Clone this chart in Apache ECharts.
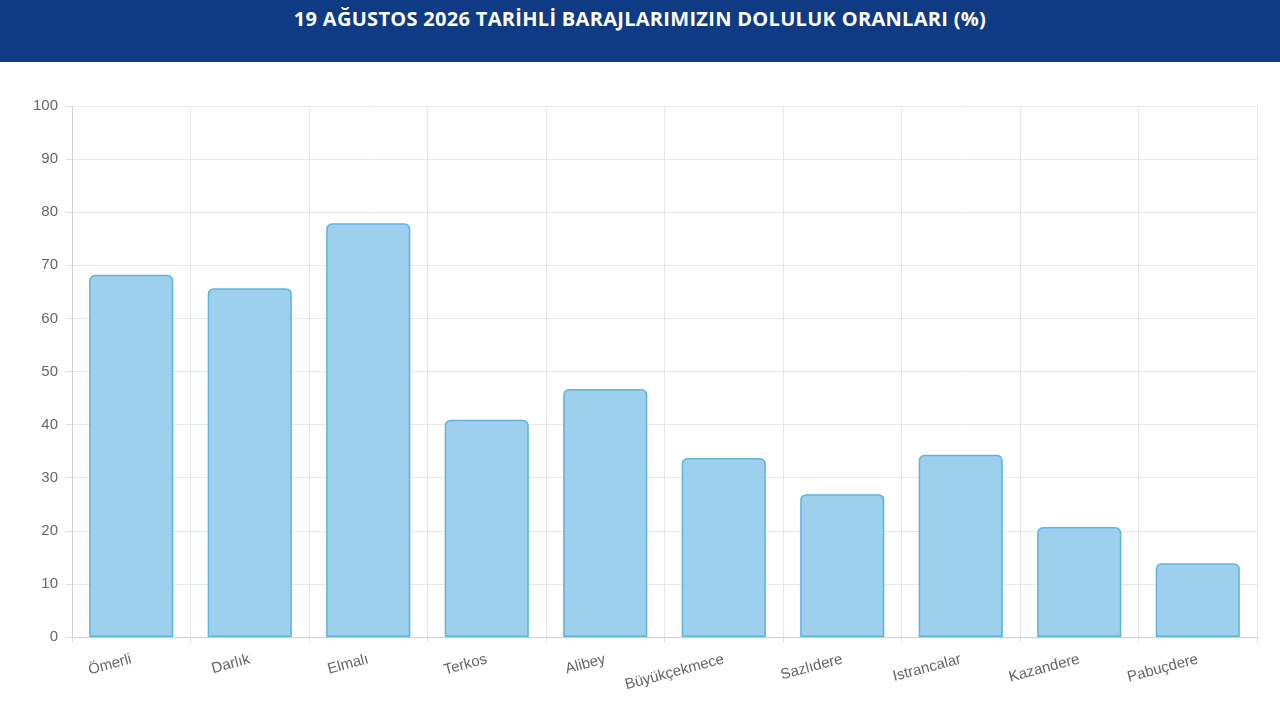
<!DOCTYPE html>
<html><head><meta charset="utf-8">
<script src="https://cdn.jsdelivr.net/npm/echarts@6/dist/echarts.min.js"></script>
<style>html,body{margin:0;padding:0;background:#fff}
#hdr{position:absolute;left:0;top:0;width:1280px;height:62px;background:#0f3a84;color:#fff;font:bold 20px "Open Sans",sans-serif;text-align:center;line-height:38px;letter-spacing:0.3px}
#c{position:absolute;left:0;top:0;width:1280px;height:720px}</style></head>
<body><div id="c"></div><div id="hdr">19 AĞUSTOS 2026 TARİHLİ BARAJLARIMIZIN DOLULUK ORANLARI (%)</div>
<script>
const categories=["Ömerli","Darlık","Elmalı","Terkos","Alibey","Büyükçekmece","Sazlıdere","Istrancalar","Kazandere","Pabuçdere"];
const values=[68.2,65.7,77.9,40.9,46.7,33.7,26.9,34.3,20.7,13.9];
const chart=echarts.init(document.getElementById('c'));
chart.setOption({
 animation:false,
 grid:{left:72,right:23,top:106,bottom:83},
 xAxis:{type:'category',data:categories,boundaryGap:true,
  axisLine:{lineStyle:{color:'#d0d0d0'}},axisTick:{show:true,length:6,lineStyle:{color:'#e0e0e0'}},
  splitLine:{show:true,lineStyle:{color:'#e8e8e8'}},
  axisLabel:{rotate:15,color:'#666',fontSize:15,fontFamily:'Liberation Sans',margin:22}},
 yAxis:{type:'value',min:0,max:100,interval:10,
  axisLine:{show:true,lineStyle:{color:'#d0d0d0'}},axisTick:{show:true,length:6,lineStyle:{color:'#e0e0e0'}},
  splitLine:{lineStyle:{color:'#e8e8e8'}},
  axisLabel:{color:'#666',fontSize:15,fontFamily:'Liberation Sans',margin:14}},
 series:[{type:'bar',data:values,barWidth:'71%',
  itemStyle:{color:'#9dd0ec',borderColor:'#5db4dd',borderWidth:1.5,borderRadius:[5,5,0,0]}}]
});
</script></body></html>
